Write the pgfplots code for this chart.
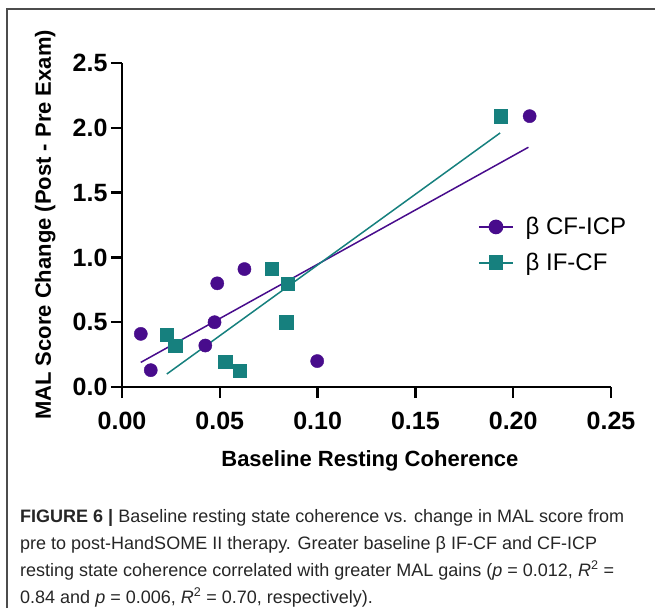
\documentclass[border=0pt]{standalone}
\usepackage{fontspec}
\setmainfont{Liberation Sans}
\usepackage{pgfplots}
\pgfplotsset{compat=1.18}
\definecolor{cpurple}{RGB}{72,12,140}
\definecolor{cteal}{RGB}{22,128,126}
\begin{document}
\begin{tikzpicture}[x=1pt,y=1pt]
\useasboundingbox (0,0) rectangle (655,608);
\draw[black!70, line width=1.3pt] (7,0) -- (7,599) -- (656,599);
\begin{axis}[
  at={(122pt,221pt)}, anchor=south west,
  scale only axis, width=489pt, height=324pt,
  xmin=0, xmax=0.25, ymin=0, ymax=2.5,
  clip=false,
  axis x line*=bottom, axis y line*=left,
  axis line style={line width=2.4pt,-},
  tick style={line width=2.4pt, black},
  major tick length=11pt, tick align=outside,
  xtick={0,0.05,0.10,0.15,0.20,0.25},
  ytick={0,0.5,1.0,1.5,2.0,2.5},
  /pgf/number format/assume math mode=true,
  xticklabel style={yshift=-11pt, /pgf/number format/fixed, /pgf/number format/precision=2, /pgf/number format/fixed zerofill},
  yticklabel style={/pgf/number format/fixed, /pgf/number format/precision=1, /pgf/number format/fixed zerofill},
  ticklabel style={font=\bfseries\fontsize{25}{25}\selectfont},
  xlabel={Baseline Resting Coherence},
  ylabel={MAL Score Change (Post - Pre Exam)},
  label style={font=\bfseries\fontsize{22}{22}\selectfont},
  xlabel style={at={(axis description cs:0.507,-0.244)}, anchor=base},
  ylabel style={at={(axis description cs:-0.157,0.5)}, anchor=center},
  legend style={at={(rel axis cs:0.728,0.53)}, anchor=north west, draw=none, fill=none,
    font=\fontsize{24}{24}\selectfont, row sep=13pt, column sep=10pt, inner sep=0pt,
    nodes={inner sep=2pt}},
  legend cell align=left,
  legend image code/.code={\draw[mark repeat=2,mark phase=2,#1] plot coordinates {(0pt,0pt) (17pt,0pt) (34pt,0pt)};},
]
\addlegendimage{cpurple, line width=1.5pt, mark=*, mark size=6.6pt, mark options={solid}}
\addlegendentry{β CF-ICP}
\addlegendimage{cteal, line width=1.5pt, mark=square*, mark size=6.6pt, mark options={solid}}
\addlegendentry{β IF-CF}
% regression lines
\addplot[cpurple, line width=1.5pt, forget plot] coordinates {(0.0096,0.19) (0.2078,1.85)};
\addplot[cteal, line width=1.5pt, forget plot] coordinates {(0.0229,0.10) (0.1933,1.96)};
% data
\addplot[only marks, mark=*, mark size=6.6pt, cpurple, forget plot] coordinates {
(0.0096,0.41) (0.0147,0.13) (0.0426,0.32) (0.0473,0.50) (0.0487,0.80) (0.0626,0.91) (0.0998,0.20) (0.2084,2.09)};
\addplot[only marks, mark=square*, mark size=6.6pt, cteal, forget plot] coordinates {
(0.0229,0.405) (0.0272,0.32) (0.0528,0.195) (0.0603,0.125) (0.0766,0.91) (0.0848,0.80) (0.0839,0.50) (0.1937,2.09)};
\end{axis}
\begin{scope}[every node/.style={anchor=base west, inner sep=0pt, text=black!85, font=\fontsize{18}{27}\selectfont}]
\node at (20,86) {{\bfseries FIGURE 6 |} Baseline resting state coherence vs. change in MAL score from};
\node at (20,59) {pre to post-HandSOME II therapy. Greater baseline β IF-CF and CF-ICP};
\node at (20,32) {resting state coherence correlated with greater MAL gains (\textit{p} = 0.012, \textit{R}\textsuperscript{2} =};
\node at (20,5) {0.84 and \textit{p} = 0.006, \textit{R}\textsuperscript{2} = 0.70, respectively).};
\end{scope}
\end{tikzpicture}
\end{document}
